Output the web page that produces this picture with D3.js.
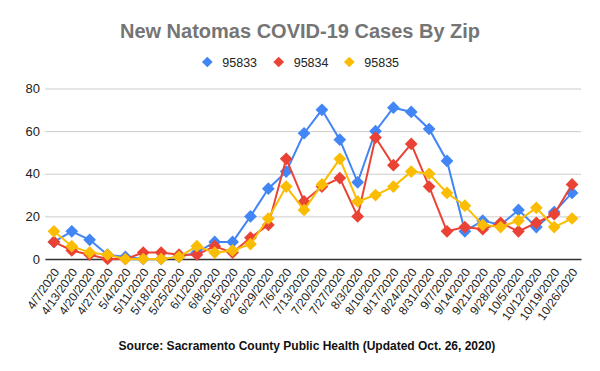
<!DOCTYPE html>
<html><head><meta charset="utf-8">
<script src="https://cdn.jsdelivr.net/npm/d3@7"></script>
<style>body{margin:0;background:#fff}svg{display:block;font-family:Arial,"Liberation Sans",sans-serif}</style>
</head><body><svg id="c" width="600" height="371"></svg>
<script>
const dates = ["4/7/2020","4/13/2020","4/20/2020","4/27/2020","5/4/2020","5/11/2020","5/18/2020","5/25/2020","6/1/2020","6/8/2020","6/15/2020","6/22/2020","6/29/2020","7/6/2020","7/13/2020","7/20/2020","7/27/2020","8/3/2020","8/10/2020","8/17/2020","8/24/2020","8/31/2020","9/7/2020","9/14/2020","9/21/2020","9/28/2020","10/5/2020","10/12/2020","10/19/2020","10/26/2020"];
const zip95833 = [8,13,9,2,1,0,0,1,3,8,8,20,33,41,59,70,56,36,60,71,69,61,46,13,18,16,23,15,22,31];
const zip95834 = [8,4,2,0,0,3,3,2,2,6,3,10,16,47,27,34,38,20,57,44,54,34,13,15,14,17,13,17,21,35];
const zip95835 = [13,6,3,2,0,0,0,1,6,3,4,7,19,34,23,35,47,27,30,34,41,40,31,25,16,15,18,24,15,19];
const seriesNames = ["95833","95834","95835"];
const yTicks = [0,20,40,60,80];
const colors = ["#4285F4","#EA4335","#FBBC04"];
const seriesData = [zip95833, zip95834, zip95835];

const svg = d3.select("#c");
const pLeft = 45, pRight = 581, pTop = 88.5, pBottom = 259;
const x = d3.scaleBand().domain(dates).range([pLeft, pRight]).padding(0);
const xc = d => x(d) + x.bandwidth()/2;
const y = d3.scaleLinear().domain([0,80]).range([pBottom, pTop]);

svg.append("text").attr("x",300).attr("y",38).attr("text-anchor","middle")
  .attr("font-size",20).attr("font-weight","bold").attr("fill","#757575")
  .text("New Natomas COVID-19 Cases By Zip");

// legend
const legX = [207.3, 278.7, 349.3];
seriesNames.forEach((n,i)=>{
  const g = svg.append("g").attr("transform",`translate(${legX[i]},62)`);
  g.append("rect").attr("x",-3.8).attr("y",-3.8).attr("width",7.6).attr("height",7.6)
    .attr("transform","rotate(45)").attr("fill",colors[i]);
  g.append("text").attr("x",15).attr("y",4.5).attr("font-size",12.5).attr("fill","#222").text(n);
});

// grid
const yAxis = d3.axisLeft(y).tickValues(yTicks).tickSize(-(pRight-pLeft)).tickPadding(5);
const ga = svg.append("g").attr("transform",`translate(${pLeft},0)`).call(yAxis);
ga.select(".domain").remove();
ga.selectAll(".tick line").attr("stroke","#cccccc");
ga.selectAll(".tick text").attr("font-size",13).attr("fill","#222").attr("font-family","Arial, 'Liberation Sans', sans-serif");

// x axis
const xAxis = d3.axisBottom(x).tickSize(0).tickPadding(0);
const gx = svg.append("g").attr("transform",`translate(0,${pBottom})`).call(xAxis);
gx.select(".domain").attr("stroke","#333").attr("stroke-width",1.3);
gx.selectAll(".tick text").attr("font-size",12).attr("fill","#222")
  .attr("font-family","Arial, 'Liberation Sans', sans-serif")
  .attr("text-anchor","end").attr("dy",null).attr("y",0)
  .attr("transform","translate(6,13) rotate(-55)");

// series
const line = d3.line().x((d,i)=>xc(dates[i])).y(d=>y(d));
seriesData.forEach((vals,si)=>{
  const g = svg.append("g");
  g.append("path").datum(vals).attr("d",line).attr("fill","none")
    .attr("stroke",colors[si]).attr("stroke-width",2);
  g.selectAll("rect").data(vals).join("rect")
    .attr("x",-4.5).attr("y",-4.5).attr("width",9).attr("height",9)
    .attr("fill",colors[si])
    .attr("transform",(d,i)=>`translate(${xc(dates[i])},${y(d)}) rotate(45)`);
});

svg.append("text").attr("x",307).attr("y",350).attr("text-anchor","middle")
  .attr("font-size",12).attr("font-weight","bold").attr("fill","#111")
  .text("Source: Sacramento County Public Health (Updated Oct. 26, 2020)");
</script></body></html>
